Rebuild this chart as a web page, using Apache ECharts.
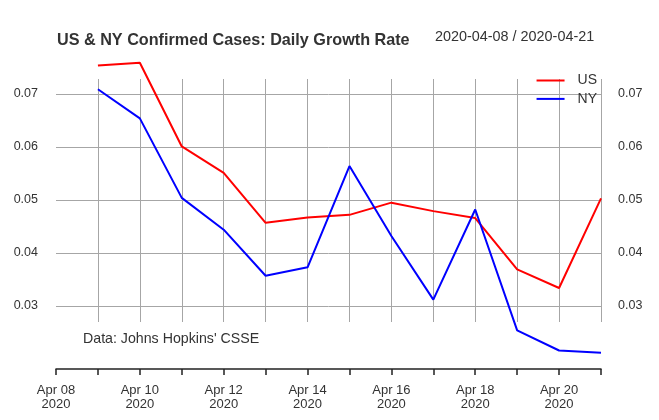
<!DOCTYPE html>
<html><head><meta charset="utf-8">
<script src="https://cdn.jsdelivr.net/npm/echarts@6/dist/echarts.min.js"></script>
<style>html,body{margin:0;padding:0;background:#fff}#c{width:659px;height:420px}</style>
</head><body><div id="c"></div>
<script>
var dates = ['2020-04-08','2020-04-09','2020-04-10','2020-04-11','2020-04-12','2020-04-13','2020-04-14','2020-04-15','2020-04-16','2020-04-17','2020-04-18','2020-04-19','2020-04-20','2020-04-21'];
var monthNames = ['Jan','Feb','Mar','Apr','May','Jun','Jul','Aug','Sep','Oct','Nov','Dec'];
var usValues = [null, 0.0754, 0.0759, 0.0601, 0.0551, 0.0457, 0.0467, 0.0472, 0.0495, 0.0479, 0.0466, 0.0369, 0.0334, 0.0503];
var nyValues = [null, 0.0709, 0.0654, 0.0504, 0.0444, 0.0357, 0.0373, 0.0564, 0.0432, 0.0312, 0.0482, 0.0254, 0.0216, 0.0212];
var yTicks = [0.03, 0.04, 0.05, 0.06, 0.07];
var titleText = 'US & NY Confirmed Cases: Daily Growth Rate';
var rangeText = '2020-04-08 / 2020-04-21';
var sourceText = "Data: Johns Hopkins' CSSE";

var FONT = "'Liberation Sans', Arial, sans-serif";
var GRID_COLOR = '#a6a6a6';
var TXT = '#333';
var chart = echarts.init(document.getElementById('c'), null, {renderer:'canvas'});
function fmtDate(d){ var p=d.split('-'); return monthNames[+p[1]-1]+' '+p[2]+'\n'+p[0]; }
var yMin = yTicks[0], yMax = yTicks[yTicks.length-1];
chart.setOption({
  animation:false,
  backgroundColor:'#fff',
  graphic:[
    {type:'text', x:57, y:41, style:{text:titleText, font:'bold 16.2px '+FONT, fill:TXT, verticalAlign:'middle'}},
    {type:'text', x:435, y:37, style:{text:rangeText, font:'14.4px '+FONT, fill:TXT, verticalAlign:'middle'}},
    {type:'text', x:83, y:339, style:{text:sourceText, font:'14.2px '+FONT, fill:TXT, verticalAlign:'middle'}}
  ],
  legend:{orient:'vertical', right:57, top:67.5, itemWidth:28, itemHeight:2, itemGap:2.4, icon:'rect',
    textStyle:{fontFamily:FONT, fontSize:14, lineHeight:16, color:TXT, padding:[0,0,0,8]}, data:['US','NY']},
  grid:[
    {left:56, right:58, top:94, height:212},
    {left:56, right:58, top:79, height:243},
    {left:56, right:58, top:368, height:1}
  ],
  xAxis:[
    {gridIndex:0, type:'category', data:dates, boundaryGap:false, show:false},
    {gridIndex:1, type:'category', data:dates, boundaryGap:false, position:'bottom',
      axisLine:{show:false}, axisTick:{show:false}, axisLabel:{show:false},
      splitLine:{show:true, interval:function(i){return i>0;}, lineStyle:{color:GRID_COLOR, width:1}}},
    {gridIndex:2, type:'category', data:dates, boundaryGap:false, position:'bottom',
      axisLine:{show:true, lineStyle:{color:'#222', width:1.5}},
      axisTick:{show:true, interval:0, length:6, lineStyle:{color:'#222', width:1.5}},
      axisLabel:{interval:1, margin:14, fontFamily:FONT, fontSize:13, color:TXT, lineHeight:14.6, formatter:fmtDate},
      splitLine:{show:false}}
  ],
  yAxis:[
    {gridIndex:0, type:'value', min:yMin, max:yMax, interval:0.01, position:'left',
      axisLine:{show:false}, axisTick:{show:false},
      axisLabel:{margin:18, fontFamily:FONT, fontSize:12.5, color:TXT},
      splitLine:{show:true, lineStyle:{color:GRID_COLOR, width:1}}},
    {gridIndex:0, type:'value', min:yMin, max:yMax, interval:0.01, position:'right',
      axisLine:{show:false}, axisTick:{show:false},
      axisLabel:{margin:17, fontFamily:FONT, fontSize:12.5, color:TXT},
      splitLine:{show:false}},
    {gridIndex:1, type:'value', show:false, splitLine:{show:false}},
    {gridIndex:2, type:'value', show:false, splitLine:{show:false}}
  ],
  series:[
    {name:'US', type:'line', xAxisIndex:0, yAxisIndex:0, data:usValues, clip:false, showSymbol:false, symbol:'none',
      lineStyle:{color:'#ff0000', width:2}, itemStyle:{color:'#ff0000'}},
    {name:'NY', type:'line', xAxisIndex:0, yAxisIndex:0, data:nyValues, clip:false, showSymbol:false, symbol:'none',
      lineStyle:{color:'#0000ff', width:2}, itemStyle:{color:'#0000ff'}}
  ]
});
</script></body></html>
